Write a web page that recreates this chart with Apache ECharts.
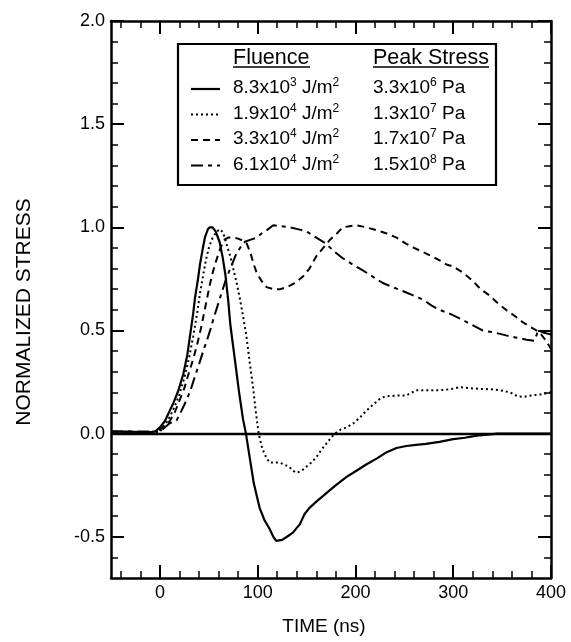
<!DOCTYPE html>
<html>
<head>
<meta charset="utf-8">
<script src="https://cdn.jsdelivr.net/npm/echarts@6/dist/echarts.min.js"></script>
<style>
html,body{margin:0;padding:0;background:#fff;}
#chart{width:571px;height:642px;}
</style>
</head>
<body>
<div id="chart"></div>
<script>
// ---- data ----
const seriesNames = ['8.3x10^3 J/m^2', '1.9x10^4 J/m^2', '3.3x10^4 J/m^2', '6.1x10^4 J/m^2'];
const fluenceMant = ['8.3', '1.9', '3.3', '6.1'];
const fluenceExp = ['3', '4', '4', '4'];
const stressMant = ['3.3', '1.3', '1.7', '1.5'];
const stressExp = ['6', '7', '7', '8'];

const fluence1 = [[-50,0.01],[-30,0.01],[-15,0.005],[-5,0.01],[0,0.03],[5,0.06],[10,0.11],[14,0.15],[19,0.21],[24,0.29],[28,0.38],[31,0.48],[34,0.58],[36,0.66],[39,0.75],[41,0.82],[44,0.9],[46,0.95],[49,0.99],[51,1.0],[54,1.0],[57,0.98],[61,0.93],[64,0.86],[67,0.77],[70,0.64],[72,0.53],[75,0.42],[78,0.31],[81,0.2],[85,0.07],[88,0.0],[92,-0.12],[96,-0.24],[99,-0.3],[102,-0.36],[107,-0.42],[112,-0.46],[116,-0.5],[119,-0.52],[125,-0.515],[130,-0.5],[136,-0.48],[143,-0.44],[148,-0.39],[153,-0.36],[160,-0.33],[170,-0.29],[180,-0.25],[191,-0.21],[201,-0.18],[211,-0.15],[222,-0.12],[232,-0.09],[242,-0.07],[252,-0.06],[262,-0.055],[272,-0.05],[286,-0.04],[300,-0.027],[312,-0.02],[324,-0.01],[335,-0.005],[345,0],[400,0]];

const fluence2 = [[-50,0.005],[-20,0.005],[-5,0.0],[0,0.01],[5,0.04],[10,0.08],[15,0.13],[20,0.19],[25,0.27],[30,0.37],[34,0.47],[38,0.58],[41,0.68],[44,0.76],[47,0.84],[50,0.9],[54,0.95],[58,0.98],[62,0.99],[65,0.97],[68,0.92],[72,0.86],[75,0.8],[79,0.72],[82,0.65],[85,0.57],[88.6,0.47],[92,0.34],[95.4,0.22],[98,0.11],[101,0.0],[104,-0.06],[107,-0.1],[112,-0.14],[117,-0.14],[122,-0.14],[127,-0.15],[132,-0.16],[136,-0.18],[140,-0.19],[145,-0.18],[150,-0.16],[155,-0.14],[160,-0.115],[165,-0.08],[170,-0.05],[175,-0.02],[179,0],[185,0.02],[191,0.03],[198,0.05],[205,0.08],[211,0.11],[218,0.14],[224,0.165],[230,0.18],[242,0.184],[252,0.185],[258,0.2],[262,0.21],[275,0.21],[286,0.21],[297,0.215],[307,0.225],[317,0.22],[327,0.217],[338,0.215],[348,0.21],[358,0.2],[366,0.18],[372,0.178],[380,0.185],[390,0.19],[400,0.2]];

const fluence3 = [[-50,0.01],[-25,0.005],[-10,0.005],[0,0.02],[5,0.04],[10,0.06],[15,0.1],[20,0.16],[25,0.22],[30,0.3],[34,0.36],[38,0.43],[42,0.51],[45,0.58],[48,0.65],[51,0.72],[54,0.78],[57,0.83],[62,0.9],[66,0.94],[70,0.95],[75,0.95],[80,0.945],[85,0.935],[89,0.92],[93,0.87],[96,0.82],[99,0.78],[104,0.74],[109,0.71],[116,0.70],[123,0.70],[130,0.71],[138,0.73],[146,0.76],[153,0.8],[160,0.86],[167,0.9],[174,0.94],[181,0.97],[187,1.0],[194,1.005],[201,1.01],[211,1.0],[222,0.985],[232,0.97],[242,0.95],[252,0.92],[260,0.9],[269,0.88],[278,0.86],[286,0.84],[293,0.82],[300,0.81],[310,0.78],[320,0.74],[328,0.7],[337,0.67],[346,0.63],[354,0.6],[363,0.57],[371,0.54],[378,0.52],[385,0.5],[390,0.48],[395,0.45],[400,0.41]];

const fluence4 = [[-50,0.01],[-20,0.01],[0,0.01],[5,0.03],[10,0.05],[17,0.063],[21,0.1],[24,0.13],[28,0.17],[32,0.22],[36,0.28],[41,0.35],[45,0.41],[48,0.45],[52,0.51],[55,0.56],[59,0.62],[63,0.68],[67,0.74],[72,0.8],[78,0.87],[82,0.9],[87,0.93],[93,0.94],[99,0.95],[104,0.97],[109,0.985],[116,1.01],[125,1.005],[133,1.0],[142,0.99],[150,0.98],[160,0.95],[170,0.92],[179,0.88],[187,0.85],[197,0.82],[208,0.79],[218,0.76],[228,0.73],[238,0.71],[249,0.69],[259,0.67],[269,0.65],[278,0.62],[286,0.6],[297,0.58],[307,0.557],[318,0.53],[330,0.5],[342,0.49],[354,0.476],[365,0.465],[375,0.455],[383,0.45],[387,0.5],[392,0.49],[396,0.485],[400,0.48]];

const xLabelValues = [0, 100, 200, 300, 400];
const xMajorTicks = [0, 100, 200, 300, 400];
const xMinorTicks = [-40,-20,0,20,40,60,80,100,120,140,160,180,200,220,240,260,280,300,320,340,360,380,400];
const yLabelValues = [-0.5, 0, 0.5, 1.0, 1.5, 2.0];
const yMajorTicks = [-0.5, 0, 0.5, 1.0, 1.5, 2.0];
const yMinorTicks = [-0.6,-0.5,-0.4,-0.3,-0.2,-0.1,0,0.1,0.2,0.3,0.4,0.5,0.6,0.7,0.8,0.9,1.0,1.1,1.2,1.3,1.4,1.5,1.6,1.7,1.8,1.9,2.0];

// ---- styles ----
const FONT = "'Liberation Sans', Arial, Helvetica, sans-serif";
const lineTypes = ['solid', [2, 3], [7, 5], [12, 5, 4, 5]];
const lineWidths = [2.2, 2, 2, 2];
const allData = [fluence1, fluence2, fluence3, fluence4];

const X_MIN = -50, X_MAX = 400, Y_MIN = -0.7, Y_MAX = 2.0;

function xAxisDef(pos, major, showLine, showLabel) {
  return {
    type: 'value', position: pos, min: X_MIN, max: X_MAX,
    splitLine: { show: false },
    axisLine: { show: showLine, onZero: false, lineStyle: { color: '#000', width: 2.5 } },
    axisTick: { show: true, inside: true, length: major ? 13 : 7,
      customValues: major ? xMajorTicks : xMinorTicks,
      lineStyle: { color: '#000', width: major ? 2 : 1.5 } },
    axisLabel: showLabel ? { show: true, customValues: xLabelValues, color: '#000',
      fontSize: 18, fontFamily: FONT, margin: 6 } : { show: false }
  };
}
function yAxisDef(pos, major, showLine, showLabel) {
  return {
    type: 'value', position: pos, min: Y_MIN, max: Y_MAX,
    splitLine: { show: false },
    axisLine: { show: showLine, onZero: false, lineStyle: { color: '#000', width: 2.5 } },
    axisTick: { show: true, inside: true, length: major ? 13 : 7,
      customValues: major ? yMajorTicks : yMinorTicks,
      lineStyle: { color: '#000', width: major ? 2 : 1.5 } },
    axisLabel: showLabel ? { show: true, customValues: yLabelValues, color: '#000',
      fontSize: 18, fontFamily: FONT, margin: 6,
      formatter: v => Number(v).toFixed(1) } : { show: false }
  };
}

const series = allData.map((d, i) => ({
  name: seriesNames[i], type: 'line', data: d, showSymbol: false, symbol: 'none',
  xAxisIndex: 0, yAxisIndex: 0, smooth: false, animation: false,
  lineStyle: { color: '#000', width: lineWidths[i], type: lineTypes[i] },
  z: 3
}));
series[0].markLine = {
  silent: true, symbol: ['none', 'none'], label: { show: false },
  lineStyle: { color: '#000', width: 2.3, type: 'solid' },
  data: [{ yAxis: 0 }], animation: false
};

// ---- legend (graphic) ----
const LX = 178, LY = 44, LW = 318, LH = 141;
const rowY = [88, 113.5, 139, 164.5];
const sampleX0 = 191, sampleX1 = 220;
const colFluence = 233, colStress = 373;
const rich = {
  n: { fontSize: 19, fontFamily: FONT, fill: '#000', lineHeight: 22 },
  s: { fontSize: 12, fontFamily: FONT, fill: '#000', verticalAlign: 'top' }
};
const graphics = [
  { type: 'rect', shape: { x: LX, y: LY, width: LW, height: LH },
    style: { fill: '#fff', stroke: '#000', lineWidth: 2.2 }, z: 10 },
  { type: 'text', x: colFluence, y: 58, z: 11,
    style: { text: 'Fluence', fontSize: 21.5, fontFamily: FONT, fill: '#000', verticalAlign: 'middle' } },
  { type: 'line', shape: { x1: colFluence, y1: 67, x2: colFluence + 77, y2: 67 },
    style: { stroke: '#000', lineWidth: 1.5 }, z: 11 },
  { type: 'text', x: colStress, y: 58, z: 11,
    style: { text: 'Peak Stress', fontSize: 21.5, fontFamily: FONT, fill: '#000', verticalAlign: 'middle' } },
  { type: 'line', shape: { x1: colStress, y1: 67, x2: colStress + 116, y2: 67 },
    style: { stroke: '#000', lineWidth: 1.5 }, z: 11 },
  // axis titles
  { type: 'text', x: 24, y: 312, rotation: Math.PI / 2, z: 11,
    style: { text: 'NORMALIZED STRESS', fontSize: 21, fontFamily: FONT, fill: '#000',
      align: 'center', verticalAlign: 'middle' } },
  { type: 'text', x: 324, y: 627, z: 11,
    style: { text: 'TIME (ns)', fontSize: 19, fontFamily: FONT, fill: '#000',
      align: 'center', verticalAlign: 'middle' } }
];
for (let i = 0; i < 4; i++) {
  const t = lineTypes[i];
  graphics.push({ type: 'line', z: 11,
    shape: { x1: sampleX0, y1: rowY[i] + 1, x2: sampleX1, y2: rowY[i] + 1 },
    style: { stroke: '#000', lineWidth: lineWidths[i], lineDash: t === 'solid' ? null : t } });
  graphics.push({ type: 'text', x: colFluence, y: rowY[i], z: 11,
    style: { text: '{n|' + fluenceMant[i] + 'x10}{s|' + fluenceExp[i] + '}{n| J/m}{s|2}',
      rich: rich, verticalAlign: 'middle' } });
  graphics.push({ type: 'text', x: colStress, y: rowY[i], z: 11,
    style: { text: '{n|' + stressMant[i] + 'x10}{s|' + stressExp[i] + '}{n| Pa}',
      rich: rich, verticalAlign: 'middle' } });
}

const chart = echarts.init(document.getElementById('chart'), null, { renderer: 'canvas' });
chart.setOption({
  animation: false,
  backgroundColor: '#fff',
  grid: { left: 111, right: 20, top: 21, bottom: 64, containLabel: false },
  xAxis: [
    xAxisDef('bottom', false, true, true),
    xAxisDef('bottom', true, false, false),
    xAxisDef('top', false, true, false),
    xAxisDef('top', true, false, false)
  ],
  yAxis: [
    yAxisDef('left', false, true, true),
    yAxisDef('left', true, false, false),
    yAxisDef('right', false, true, false),
    yAxisDef('right', true, false, false)
  ],
  series: series,
  graphic: { elements: graphics }
});
</script>
</body>
</html>
